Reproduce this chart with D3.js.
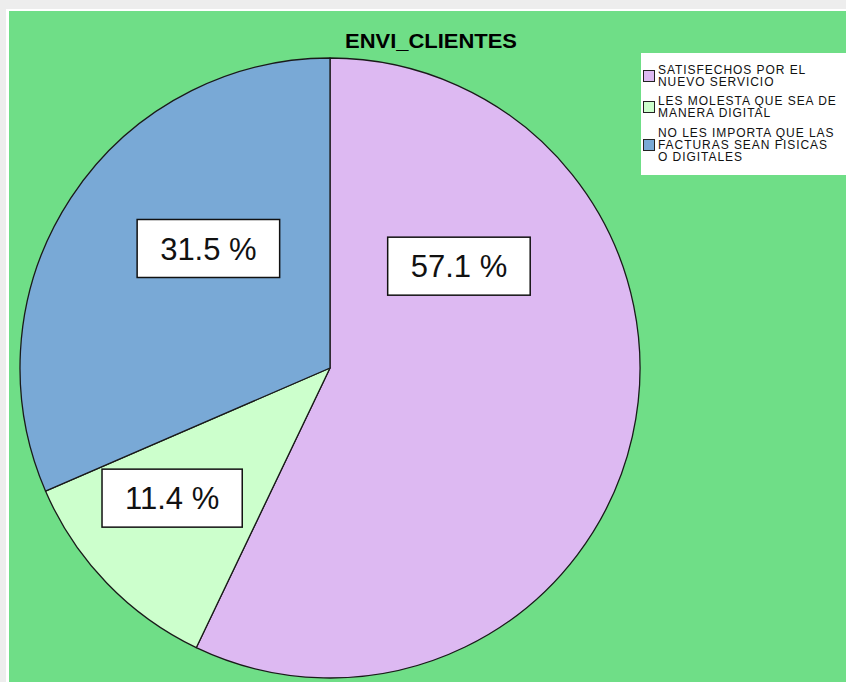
<!DOCTYPE html>
<html>
<head>
<meta charset="utf-8">
<script src="https://cdn.jsdelivr.net/npm/d3@7"></script>
<style>
  html, body { margin: 0; padding: 0; background: #ededed; }
  svg { display: block; }
</style>
</head>
<body>
<script>
// chart data
const categories = [
  "SATISFECHOS POR EL NUEVO SERVICIO",
  "LES MOLESTA QUE SEA DE MANERA DIGITAL",
  "NO LES IMPORTA QUE LAS FACTURAS SEAN FISICAS O DIGITALES"
];
const values = [57.1, 11.4, 31.5];
const legendLines = [
  ["SATISFECHOS POR EL", "NUEVO SERVICIO"],
  ["LES MOLESTA QUE SEA DE", "MANERA DIGITAL"],
  ["NO LES IMPORTA QUE LAS", "FACTURAS SEAN FISICAS", "O DIGITALES"]
];
const colors = ["#ddb9f2", "#ccffcc", "#79a9d6"];
const title = "ENVI_CLIENTES";

// label placement (angle in degrees clockwise from top, radius fraction)
const labelPlace = [[51.7, 0.53], [230.5, 0.66], [314.5, 0.55]];

const W = 846, H = 682;
const cx = 330, cy = 368, R = 310;

const svg = d3.select("body").append("svg")
  .attr("width", W).attr("height", H);

// frame
svg.append("rect").attr("x", 0).attr("y", 0).attr("width", W).attr("height", H).attr("fill", "#ededed");
svg.append("rect").attr("x", 6).attr("y", 9).attr("width", W - 6).attr("height", H - 9).attr("fill", "#ffffff");
svg.append("rect").attr("x", 9).attr("y", 11).attr("width", W - 9).attr("height", H - 11).attr("fill", "#6fde87");

// title
svg.append("text")
  .attr("x", 431).attr("y", 48)
  .attr("text-anchor", "middle")
  .attr("font-family", "Liberation Sans, Arial, sans-serif")
  .attr("font-weight", "bold")
  .attr("font-size", 20)
  .attr("textLength", 172)
  .attr("lengthAdjust", "spacingAndGlyphs")
  .attr("fill", "#000")
  .text(title);

/* PIE */
const data = categories.map((c, i) => ({ name: c, value: values[i], color: colors[i] }));
const pie = d3.pie().sort(null).value(d => d.value);
const arc = d3.arc().innerRadius(0).outerRadius(R);

const g = svg.append("g").attr("transform", `translate(${cx},${cy})`);
g.selectAll("path")
  .data(pie(data))
  .join("path")
  .attr("d", arc)
  .attr("fill", d => d.data.color)
  .attr("stroke", "#1a1a1a")
  .attr("stroke-width", 1.3)
  .attr("stroke-linejoin", "round");

/* LABELS */
const labels = g.selectAll("g.lbl")
  .data(pie(data))
  .join("g")
  .attr("class", "lbl")
  .attr("transform", (d, i) => {
    const a = labelPlace[i][0] * Math.PI / 180, r = labelPlace[i][1] * R;
    return `translate(${r * Math.sin(a)},${-r * Math.cos(a)})`;
  });

labels.each(function (d) {
  const sel = d3.select(this);
  const rect = sel.append("rect");
  const t = sel.append("text")
    .attr("text-anchor", "middle")
    .attr("dy", "0.36em")
    .attr("font-family", "Liberation Sans, Arial, sans-serif")
    .attr("font-size", 31)
    .attr("fill", "#111")
    .text(d3.format(".1f")(d.data.value) + " %");
  const bb = t.node().getBBox();
  const bw = bb.width + 46, bh = 58;
  rect.attr("x", -bw / 2).attr("y", -bh / 2)
    .attr("width", bw).attr("height", bh)
    .attr("fill", "#fff").attr("stroke", "#111").attr("stroke-width", 1.5);
});

/* LEGEND */
const legend = svg.append("g").attr("class", "legend");
legend.append("rect")
  .attr("x", 641).attr("y", 53).attr("width", W - 641).attr("height", 122)
  .attr("fill", "#fff");

const lineH = 12;
const entryTop = [74, 105, 137];
const items = legend.selectAll("g.item")
  .data(data)
  .join("g")
  .attr("class", "item");

items.each(function (d, i) {
  const sel = d3.select(this);
  const lines = legendLines[i];
  const y0 = entryTop[i];
  const mid = y0 + (lines.length - 1) * lineH / 2 - 4;
  sel.append("rect")
    .attr("x", 643.5).attr("y", mid - 5.5)
    .attr("width", 11).attr("height", 11)
    .attr("fill", d.color).attr("stroke", "#222").attr("stroke-width", 1);
  sel.selectAll("text")
    .data(lines)
    .join("text")
    .attr("font-family", "Liberation Sans, Arial, sans-serif")
    .attr("font-size", 12)
    .attr("letter-spacing", 0.95)
    .attr("fill", "#111")
    .attr("x", 658)
    .attr("y", (l, j) => y0 + j * lineH)
    .text(l => l);
});
</script>
</body>
</html>
